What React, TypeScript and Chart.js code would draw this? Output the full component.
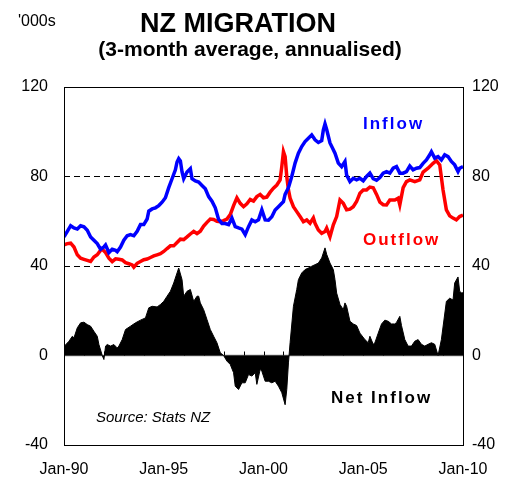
import React, { useEffect, useRef } from 'react';
import { Chart, registerables } from 'chart.js';

Chart.register(...registerables);

// x axis: months since Jan-1990
const xTickMonths = [0, 60, 120, 180, 240];
const xTickLabels = ['Jan-90', 'Jan-95', 'Jan-00', 'Jan-05', 'Jan-10'];
const yTicks = [-40, 0, 40, 80, 120];

const inflowMonths = [0, 2, 4, 6, 8, 10, 12, 14, 16, 18, 20, 22, 24, 25, 27, 29, 31, 32, 34, 36, 38, 40, 42, 44, 46, 48, 50, 51, 53, 55, 57, 59, 61, 63, 65, 67, 68, 69, 70, 71, 72, 74, 76, 77, 79, 81, 83, 85, 87, 89, 91, 93, 95, 97, 99, 101, 103, 105, 107, 109, 111, 113, 115, 117, 119, 121, 123, 125, 127, 129, 131, 132, 133, 135, 137, 139, 141, 143, 145, 147, 149, 151, 153, 155, 156, 157, 158, 160, 162, 163, 165, 167, 169, 170, 172, 174, 176, 178, 180, 182, 184, 186, 188, 190, 192, 194, 196, 198, 200, 202, 204, 206, 208, 210, 212, 214, 216, 218, 220, 221, 223, 225, 227, 229, 231, 233, 235, 237, 238, 240];
const inflowValues = [53, 55.5, 58, 57, 56.5, 58, 57.5, 56, 53, 51.5, 50, 47.5, 48.5, 49.4, 46, 47.5, 47, 46.4, 48.5, 51.5, 53.5, 54, 53.5, 55.5, 58.5, 58.5, 61, 64.5, 65.5, 66, 67, 68.5, 70.5, 75, 79, 83, 86.5, 88, 87, 82, 79, 82, 83.5, 79, 78, 77.5, 76, 74.5, 71, 69, 66, 60.8, 59, 59, 58.5, 61.4, 57.6, 57, 56.5, 54, 57.6, 60.6, 59.8, 60.6, 65.1, 60.6, 60.5, 62, 65, 66.5, 68, 68.8, 72, 75, 80, 86, 90.4, 93.4, 95.6, 97.1, 98.6, 96.4, 95.2, 96, 100.8, 103.5, 101, 95, 92, 90.4, 86, 84.4, 86.7, 80.7, 77.7, 79.2, 78.5, 79.2, 78.1, 80, 81.5, 79, 78.3, 79.5, 81.5, 82.2, 81.5, 83.7, 84.4, 81.5, 81.5, 82.2, 84.7, 83, 83.7, 84, 85.9, 87.4, 89.7, 91.1, 88.2, 88.9, 87.4, 89.7, 88.9, 86.7, 85.2, 82.2, 83.7, 84.4];

const outflowMonths = [0, 2, 4, 6, 8, 10, 12, 14, 16, 18, 20, 22, 23, 25, 27, 29, 31, 33, 35, 37, 39, 41, 42, 44, 46, 48, 50, 52, 54, 56, 58, 60, 62, 64, 66, 68, 70, 72, 74, 76, 78, 80, 82, 84, 86, 88, 90, 92, 94, 96, 98, 100, 102, 104, 106, 108, 110, 112, 114, 116, 118, 120, 122, 124, 126, 128, 130, 131, 132, 133, 134, 135, 136, 138, 140, 142, 144, 146, 148, 150, 151, 153, 155, 157, 158, 160, 162, 164, 166, 168, 170, 172, 174, 176, 178, 180, 182, 184, 186, 188, 190, 192, 194, 196, 199, 201, 202, 204, 206, 208, 211, 214, 216, 219, 222, 224, 226, 228, 230, 232, 234, 236, 238, 240];
const outflowValues = [49.4, 50, 50.2, 48.5, 45, 43.5, 43, 42.5, 42, 44, 45, 47, 47.5, 46, 43.5, 42, 43.2, 43, 42.7, 41.5, 41, 40.5, 39.5, 41.2, 42, 42.8, 43.1, 43.8, 44.5, 45, 45.5, 46.5, 47.8, 49, 49, 50.5, 52, 51.8, 53, 54.3, 55.5, 54.5, 55.5, 57.8, 59.5, 61, 60.8, 60, 59.8, 60.3, 61, 63, 67, 70.5, 68, 66.5, 67.8, 69.7, 69, 71, 72, 70.5, 70.8, 73, 74.8, 76.2, 78.5, 84.4, 91.1, 88.9, 80, 74, 70.3, 66.5, 64.3, 62.1, 59.8, 60.6, 59.1, 61.5, 59.1, 56.1, 54.6, 55.4, 56.9, 53.1, 58.4, 62.1, 69.5, 68, 65.1, 65.4, 66.5, 68.8, 72.5, 74, 74, 75.3, 75, 72, 68.5, 67.4, 67.3, 69.5, 69.5, 70.3, 67.3, 75, 77.7, 78.5, 77.7, 78.5, 82, 83.7, 85.9, 87.1, 85.2, 74, 65.1, 62.4, 61.4, 60.6, 62.1, 62.8];

const netMonths = [0, 3, 5, 6, 8, 10, 12, 14, 16, 18, 20, 21, 23, 24, 25, 26, 28, 30, 32, 33, 35, 37, 40, 43, 46, 49, 51, 53, 56, 58, 60, 62, 64, 66, 68, 69, 71, 72, 74, 76, 78, 80, 81, 82, 84, 86, 88, 90, 92, 94, 96, 98, 100, 102, 103, 105, 107, 109, 111, 113, 115, 116, 118, 119, 121, 123, 125, 127, 129, 131, 133, 134, 135, 136, 138, 140, 141, 143, 145, 147, 149, 151, 153, 155, 157, 158, 160, 162, 163, 164, 166, 168, 169, 170, 172, 174, 176, 178, 181, 183, 184, 186, 187, 189, 191, 193, 195, 197, 199, 200, 202, 203, 205, 207, 209, 211, 213, 215, 217, 219, 221, 223, 225, 227, 230, 232, 234, 235, 237, 238, 239, 240];
const netValues = [4, 6.4, 8.6, 7.9, 12.4, 14.6, 14.9, 13.8, 13.1, 10.8, 8.6, 4.9, 0, -1.8, 4.2, 4.9, 4.2, 4.9, 3.4, 4.2, 7.1, 11.6, 13.1, 14.6, 15.8, 16.8, 21.3, 22, 21.7, 22.8, 24.2, 26.5, 28.7, 32.4, 36.9, 39.1, 33.9, 26.5, 28.7, 29.5, 24.2, 26.5, 26.5, 23.5, 20.5, 16.1, 11.6, 8.6, 5.7, 1.2, 0, -2.5, -4, -7.7, -13.7, -15.2, -12.2, -12.2, -8.5, -9.2, -7.7, -12.9, -6.2, -7, -11.5, -11.5, -12.2, -11.5, -13.7, -16.6, -22, -15.2, -3.3, 5.7, 22, 29.5, 33.9, 36.9, 38.4, 39.1, 39.9, 40.6, 41.3, 43.6, 48.1, 45.2, 41.3, 38.4, 33.9, 27.9, 22.8, 20.5, 23.5, 22, 15.3, 14.1, 13.4, 10, 7.1, 5.7, 8.6, 5, 5.7, 10, 14.1, 15.8, 15.3, 14.1, 14.1, 14.8, 17.5, 13.4, 7.1, 4.2, 4.2, 6.4, 7.1, 5, 4.2, 5, 5.7, 5, 0, 7.1, 24.2, 25.6, 24.8, 32.4, 35.1, 28.7, 28, 28];

const FONT = '"Liberation Sans", Arial, Helvetica, sans-serif';

const toPoints = (ms: number[], vs: number[]) => ms.map((m, i) => ({ x: m, y: vs[i] }));

const decorPlugin = {
  id: 'decor',
  beforeDatasetsDraw(chart: any) {
    const { ctx, chartArea: a, scales } = chart;
    const y0 = scales.y.getPixelForValue(0);
    ctx.save();
    ctx.strokeStyle = '#7f7f7f';
    ctx.lineWidth = 1.5;
    ctx.beginPath();
    ctx.moveTo(a.left, y0);
    ctx.lineTo(a.right, y0);
    ctx.stroke();
    ctx.strokeStyle = '#000';
    ctx.lineWidth = 1;
    for (let m = 12; m < 240; m += 12) {
      const x = Math.round(scales.x.getPixelForValue(m)) + 0.5;
      ctx.beginPath();
      ctx.moveTo(x, y0);
      ctx.lineTo(x, y0 - 4);
      ctx.stroke();
    }
    ctx.restore();
  },
  afterDraw(chart: any) {
    const { ctx, chartArea: a } = chart;
    ctx.save();
    ctx.strokeStyle = '#000';
    ctx.lineWidth = 1;
    ctx.strokeRect(Math.round(a.left) + 0.5, Math.round(a.top) + 0.5, Math.round(a.right - a.left), Math.round(a.bottom - a.top));

    ctx.fillStyle = '#000';
    ctx.textBaseline = 'middle';
    ctx.textAlign = 'center';
    ctx.font = `bold 27px ${FONT}`;
    ctx.fillText('NZ MIGRATION', 238, 25);
    ctx.font = `bold 21px ${FONT}`;
    ctx.fillText('(3-month average, annualised)', 250, 50);
    ctx.textAlign = 'left';
    ctx.font = `16px ${FONT}`;
    ctx.fillText("'000s", 18, 22);

    (ctx as any).letterSpacing = '2px';
    ctx.font = `bold 17px ${FONT}`;
    ctx.fillStyle = '#0000ff';
    ctx.fillText('Inflow', 363, 124);
    ctx.fillStyle = '#ff0000';
    ctx.fillText('Outflow', 363, 240);
    ctx.fillStyle = '#000';
    ctx.fillText('Net Inflow', 331, 398);
    (ctx as any).letterSpacing = '0px';
    ctx.font = `italic 15px ${FONT}`;
    ctx.fillText('Source: Stats NZ', 96, 418);
    ctx.restore();
  },
};

export default function App() {
  const ref = useRef<HTMLCanvasElement | null>(null);
  useEffect(() => {
    document.body.style.margin = '0';
    const canvas = ref.current;
    if (!canvas) return;
    const yTickOpts = {
      color: '#000',
      font: { family: FONT, size: 16 },
    };
    const chart = new Chart(canvas, {
      type: 'line',
      data: {
        datasets: [
          {
            label: 'Inflow',
            data: toPoints(inflowMonths, inflowValues),
            borderColor: '#0000ff',
            borderWidth: 3.5,
            pointRadius: 0,
            fill: false,
            tension: 0,
            yAxisID: 'y',
          },
          {
            label: 'Outflow',
            data: toPoints(outflowMonths, outflowValues),
            borderColor: '#ff0000',
            borderWidth: 3.5,
            pointRadius: 0,
            fill: false,
            tension: 0,
            yAxisID: 'y',
          },
          {
            label: 'Net Inflow',
            data: toPoints(netMonths, netValues),
            borderColor: '#000',
            backgroundColor: '#000',
            borderWidth: 1,
            pointRadius: 0,
            fill: 'origin',
            tension: 0,
            yAxisID: 'y',
          },
        ],
      },
      options: {
        responsive: false,
        animation: false,
        devicePixelRatio: 1,
        layout: { padding: { top: 87, left: 0, right: 0, bottom: 0 } },
        plugins: {
          legend: { display: false },
          tooltip: { enabled: false },
          title: { display: false },
        },
        scales: {
          x: {
            type: 'linear',
            position: 'bottom',
            min: 0,
            max: 240,
            afterBuildTicks: (s: any) => {
              s.ticks = xTickMonths.map((v) => ({ value: v }));
            },
            afterFit: (s: any) => {
              s.height = 35;
            },
            grid: { display: false, drawTicks: false },
            border: { display: false },
            ticks: {
              autoSkip: false,
              maxRotation: 0,
              padding: 15,
              color: '#000',
              font: { family: FONT, size: 16 },
              callback: (v: any) => {
                const i = xTickMonths.indexOf(Number(v));
                return i >= 0 ? xTickLabels[i] : '';
              },
            },
          },
          y: {
            type: 'linear',
            position: 'left',
            min: -40,
            max: 120,
            afterBuildTicks: (s: any) => {
              s.ticks = yTicks.map((v) => ({ value: v }));
            },
            afterFit: (s: any) => {
              s.width = 64;
            },
            grid: {
              drawTicks: false,
              lineWidth: 1,
              color: (c: any) => (c.tick && (c.tick.value === 40 || c.tick.value === 80) ? '#000' : 'rgba(0,0,0,0)'),
            },
            border: { display: false, dash: [6, 4] },
            ticks: { ...yTickOpts, padding: 16 },
          },
          y2: {
            type: 'linear',
            position: 'right',
            min: -40,
            max: 120,
            afterBuildTicks: (s: any) => {
              s.ticks = yTicks.map((v) => ({ value: v }));
            },
            afterFit: (s: any) => {
              s.width = 56;
            },
            grid: { display: false, drawTicks: false },
            border: { display: false },
            ticks: { ...yTickOpts, padding: 9, crossAlign: 'near' },
          },
        },
      },
      plugins: [decorPlugin],
    } as any);
    return () => chart.destroy();
  }, []);
  return <canvas ref={ref} width={519} height={480} style={{ display: 'block', width: 519, height: 480 }} />;
}
